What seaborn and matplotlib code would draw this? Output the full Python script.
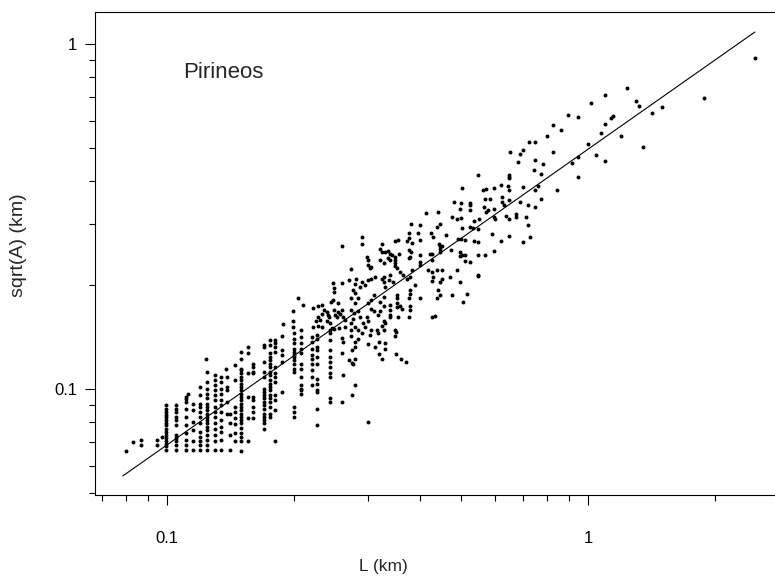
import matplotlib
matplotlib.use("Agg")
import matplotlib.pyplot as plt
import seaborn as sns
import pandas as pd
from matplotlib.ticker import FixedLocator, FixedFormatter, NullFormatter

sns.set_theme(style="white")
plt.rcParams['font.family'] = ['Liberation Sans', 'DejaVu Sans']

# ---------------- data (L in km, sqrt(A) in km) ----------------
# dense low range: L values come in discrete columns
col_L = [0.0995, 0.1051, 0.1109, 0.1154, 0.1200, 0.1248, 0.1298, 0.1347, 0.1389,
         0.1412, 0.145, 0.150, 0.156, 0.160, 0.170, 0.1757, 0.1805, 0.188, 0.200,
         0.208, 0.2207, 0.2275, 0.244]
col_S = [
    [0.0897, 0.0878, 0.0859, 0.0843, 0.0831, 0.0813, 0.0799, 0.0787, 0.0768, 0.0752, 0.0736, 0.072, 0.0706, 0.0694, 0.0683, 0.0665],
    [0.0897, 0.0878, 0.0859, 0.0831, 0.0813, 0.0787, 0.0736, 0.072, 0.0706, 0.069, 0.0665],
    [0.0949, 0.0933, 0.092, 0.0878, 0.0831, 0.0787, 0.0747, 0.0712, 0.069, 0.0665],
    [0.0907, 0.0869, 0.0804, 0.0763, 0.0706, 0.0665],
    [0.1012, 0.096, 0.0907, 0.0887, 0.0859, 0.0831, 0.0795, 0.0752, 0.0728, 0.0706, 0.069, 0.0665],
    [0.112, 0.1048, 0.1, 0.097, 0.094, 0.0907, 0.0887, 0.0869, 0.0849, 0.0831, 0.0813, 0.0795, 0.0776, 0.076, 0.0736, 0.0712, 0.069, 0.0665],
    [0.1097, 0.106, 0.1024, 0.0993, 0.096, 0.0929, 0.0887, 0.0859, 0.0831, 0.0795, 0.0768, 0.0736, 0.0705, 0.0665],
    [0.1085, 0.1048, 0.1, 0.097, 0.0929, 0.0897, 0.0859, 0.0813, 0.0776, 0.0752, 0.0712, 0.0665],
    [0.1012, 0.0993, 0.092, 0.0849, 0.1085],
    [0.0849, 0.0795, 0.0736, 0.0665],
    [0.117, 0.1065, 0.0887, 0.0859, 0.0822, 0.0791, 0.0744, 0.0705],
    [0.128, 0.1225, 0.1146, 0.1135, 0.111, 0.1085, 0.106, 0.1036, 0.1012, 0.0993, 0.097, 0.0949, 0.0929, 0.0907, 0.0887, 0.0869, 0.0849, 0.0831, 0.0813, 0.0795, 0.0773, 0.0744, 0.0728, 0.0705, 0.0662],
    [0.1325, 0.1268, 0.111, 0.0949, 0.0822, 0.0705],
    [0.1185, 0.1158, 0.112, 0.111, 0.0949, 0.0929, 0.0887, 0.0859, 0.0822],
    [0.134, 0.1325, 0.1198, 0.112, 0.1085, 0.1002, 0.098, 0.096, 0.0939, 0.0918, 0.0897, 0.0878, 0.0849, 0.0831, 0.0813, 0.0795, 0.0768],
    [0.1387, 0.134, 0.1268, 0.124, 0.121, 0.1185, 0.1158, 0.112, 0.1097, 0.106, 0.1036, 0.1012, 0.0993, 0.096, 0.0939, 0.0918, 0.0887, 0.0849, 0.0831],
    [0.1387, 0.1355, 0.1325, 0.128, 0.1158, 0.111, 0.1085, 0.1048, 0.096, 0.0929, 0.0869, 0.0705],
    [0.1422, 0.130, 0.1254, 0.1198, 0.098],
    [0.1451, 0.140, 0.1355, 0.131, 0.128, 0.1254, 0.124, 0.121, 0.1185, 0.1146, 0.112, 0.0887, 0.0859, 0.0831],
    [0.148, 0.1416, 0.1355, 0.131, 0.1268, 0.1185, 0.1146, 0.1085, 0.1024, 0.1002, 0.0993, 0.097],
    [0.1416, 0.137, 0.131, 0.1254, 0.1225, 0.1185, 0.1135, 0.1085, 0.1024],
    [0.1433, 0.140, 0.1325, 0.130, 0.124, 0.1185, 0.1072, 0.1036, 0.0993, 0.098, 0.0878, 0.0786],
    [0.148, 0.1451, 0.1387, 0.130, 0.124, 0.1198, 0.1158, 0.111, 0.1085, 0.0939, 0.0918],
]

# scattered points, small L
low_L = [0.0799, 0.0833, 0.0870, 0.0870, 0.0946, 0.0946, 0.0972, 0.1123, 0.124, 0.138]
low_S = [0.0663, 0.0700, 0.0710, 0.0690, 0.0710, 0.0690, 0.0728, 0.0968, 0.122, 0.114]

# scattered points, middle range
mid_L = [0.260, 0.205, 0.255, 0.210, 0.1995, 0.248, 0.250, 0.250, 0.260, 0.270, 0.245, 0.248,
         0.2226, 0.2288, 0.233, 0.236, 0.233, 0.2395, 0.241, 0.243, 0.2496, 0.2506, 0.253, 0.255,
         0.2575, 0.260, 0.262, 0.265, 0.229, 0.231, 0.226, 0.229, 0.233, 0.2226, 0.2395, 0.244,
         0.246, 0.250, 0.2566, 0.265, 0.189, 0.1995, 0.1995,
         0.260, 0.262, 0.260, 0.280, 0.280, 0.275, 0.300, 0.319, 0.330, 0.330, 0.312, 0.319,
         0.325, 0.350, 0.360, 0.369, 0.270, 0.275, 0.276, 0.280, 0.262, 0.280, 0.275, 0.260, 0.300]
mid_S = [0.259, 0.184, 0.178, 0.175, 0.1686, 0.2025, 0.196, 0.1915, 0.2025, 0.207, 0.179, 0.181,
         0.172, 0.1735, 0.1755, 0.169, 0.1655, 0.167, 0.164, 0.162, 0.169, 0.164, 0.1615, 0.167,
         0.1655, 0.170, 0.162, 0.158, 0.162, 0.158, 0.157, 0.152, 0.1515, 0.1515, 0.157, 0.155,
         0.1505, 0.1496, 0.1505, 0.1515, 0.154, 0.157, 0.1515,
         0.141, 0.137, 0.127, 0.137, 0.132, 0.130, 0.135, 0.137, 0.136, 0.131, 0.132, 0.126,
         0.122, 0.126, 0.122, 0.120, 0.121, 0.119, 0.118, 0.122, 0.110, 0.1025, 0.096, 0.092, 0.080]

# scattered points, L about 0.27 - 0.55
up_L = [0.481, 0.499, 0.524, 0.524, 0.497, 0.524, 0.413, 0.440, 0.475, 0.488, 0.499, 0.537, 0.550,
        0.380, 0.399, 0.445, 0.439, 0.501, 0.524, 0.290, 0.290, 0.325, 0.348, 0.354, 0.376, 0.395,
        0.376, 0.371, 0.381, 0.398, 0.424, 0.428, 0.443, 0.445, 0.461, 0.490, 0.499, 0.510, 0.321,
        0.325, 0.330, 0.335, 0.339, 0.342, 0.335, 0.339, 0.349, 0.349, 0.349, 0.349, 0.351, 0.356,
        0.375, 0.380, 0.378, 0.375, 0.399, 0.399, 0.399, 0.421, 0.425, 0.425, 0.445, 0.449, 0.445,
        0.473, 0.497, 0.501, 0.510, 0.497, 0.510, 0.298, 0.301, 0.301, 0.303, 0.306, 0.321, 0.327,
        0.274, 0.312, 0.306, 0.301, 0.282, 0.280, 0.290, 0.295, 0.287, 0.327, 0.324, 0.327, 0.339,
        0.344, 0.336, 0.330, 0.358, 0.364, 0.371, 0.383, 0.378, 0.388, 0.416, 0.425, 0.429, 0.425,
        0.439, 0.449, 0.449, 0.445, 0.470, 0.488, 0.497, 0.515, 0.506, 0.377, 0.378, 0.375, 0.399,
        0.437, 0.441, 0.446, 0.475, 0.351, 0.351, 0.351, 0.351, 0.358, 0.361, 0.377, 0.377, 0.339,
        0.339, 0.338, 0.327, 0.321, 0.327, 0.310, 0.306, 0.301, 0.306, 0.277, 0.280, 0.274, 0.285,
        0.280, 0.274, 0.278, 0.285, 0.287, 0.277, 0.298, 0.301, 0.292, 0.310, 0.318, 0.321, 0.327,
        0.330, 0.325, 0.327, 0.339, 0.354, 0.375, 0.348, 0.350, 0.348, 0.425, 0.433, 0.274, 0.280,
        0.274, 0.285, 0.290, 0.295, 0.306, 0.315, 0.303, 0.318, 0.274, 0.285]
up_S = [0.349, 0.345, 0.347, 0.341, 0.332, 0.331, 0.323, 0.325, 0.316, 0.311, 0.313, 0.307, 0.310,
        0.301, 0.299, 0.301, 0.294, 0.293, 0.294, 0.275, 0.264, 0.263, 0.269, 0.270, 0.284, 0.284,
        0.274, 0.269, 0.265, 0.271, 0.283, 0.276, 0.264, 0.260, 0.280, 0.272, 0.273, 0.271, 0.254,
        0.250, 0.250, 0.251, 0.246, 0.244, 0.240, 0.236, 0.242, 0.237, 0.232, 0.228, 0.224, 0.246,
        0.253, 0.250, 0.242, 0.240, 0.245, 0.234, 0.229, 0.247, 0.246, 0.237, 0.250, 0.259, 0.254,
        0.253, 0.250, 0.245, 0.245, 0.243, 0.235, 0.242, 0.237, 0.229, 0.224, 0.226, 0.237, 0.232,
        0.223, 0.211, 0.209, 0.207, 0.209, 0.202, 0.204, 0.200, 0.198, 0.211, 0.209, 0.204, 0.214,
        0.204, 0.207, 0.198, 0.219, 0.214, 0.209, 0.221, 0.211, 0.200, 0.222, 0.218, 0.211, 0.206,
        0.221, 0.221, 0.209, 0.204, 0.211, 0.221, 0.204, 0.189, 0.179, 0.193, 0.189, 0.184, 0.184,
        0.184, 0.194, 0.187, 0.187, 0.187, 0.183, 0.177, 0.173, 0.174, 0.171, 0.174, 0.170, 0.175,
        0.169, 0.164, 0.185, 0.179, 0.174, 0.187, 0.181, 0.177, 0.171, 0.194, 0.190, 0.183, 0.183,
        0.177, 0.169, 0.166, 0.168, 0.162, 0.160, 0.162, 0.157, 0.155, 0.168, 0.164, 0.168, 0.157,
        0.155, 0.152, 0.148, 0.162, 0.162, 0.162, 0.148, 0.146, 0.142, 0.162, 0.163, 0.155, 0.151,
        0.148, 0.148, 0.145, 0.151, 0.148, 0.148, 0.143, 0.145, 0.142, 0.140]

# scattered points, large L
hi_L = [0.898, 0.948, 0.824, 0.863, 0.800, 0.724, 0.748, 0.998, 0.654, 0.700, 0.690, 0.824, 0.681,
        0.748, 0.781, 0.948, 0.916, 0.744, 0.773, 0.649, 0.649, 0.649, 0.549, 0.948, 0.700, 0.761,
        0.748, 0.844, 0.622, 0.645, 0.650, 0.599, 0.574, 0.562, 0.625, 0.650, 0.569, 0.585, 0.773,
        0.625, 0.633, 0.688, 0.566, 0.580, 0.574, 0.599, 0.719, 0.750, 0.638, 0.649, 0.675, 0.675,
        0.599, 0.601, 0.714, 0.534, 0.549, 0.721, 0.590, 0.650, 0.728, 0.537, 0.549, 0.620, 0.700,
        0.599, 0.549, 0.569, 0.524, 0.549, 0.549, 0.501,
        1.015, 1.098, 1.236, 1.298, 1.324, 1.098, 1.134, 1.148, 1.074, 1.198, 1.419, 1.496, 1.886,
        2.493, 1.349, 1.043, 1.098]
hi_S = [0.623, 0.616, 0.582, 0.563, 0.542, 0.519, 0.521, 0.513, 0.486, 0.494, 0.479, 0.486, 0.454,
        0.462, 0.448, 0.471, 0.453, 0.431, 0.420, 0.417, 0.413, 0.408, 0.417, 0.413, 0.385, 0.388,
        0.377, 0.377, 0.390, 0.388, 0.378, 0.382, 0.381, 0.377, 0.361, 0.353, 0.356, 0.356, 0.356,
        0.349, 0.341, 0.348, 0.338, 0.330, 0.326, 0.333, 0.341, 0.336, 0.317, 0.310, 0.322, 0.315,
        0.316, 0.312, 0.315, 0.293, 0.291, 0.298, 0.281, 0.278, 0.276, 0.269, 0.267, 0.269, 0.267,
        0.251, 0.244, 0.244, 0.234, 0.214, 0.213, 0.382,
        0.673, 0.712, 0.744, 0.685, 0.661, 0.587, 0.610, 0.618, 0.551, 0.541, 0.631, 0.657, 0.696,
        0.913, 0.504, 0.476, 0.458]

# fitted power-law line (end points)
line_L = [0.0786, 2.49]
line_S = [0.056, 1.083]

# ---------------- assemble ----------------
rows = []
for lv, svals in zip(col_L, col_S):
    for sv in svals:
        rows.append((lv, sv))
for Ls, Ss in ((low_L, low_S), (mid_L, mid_S), (up_L, up_S), (hi_L, hi_S)):
    rows.extend(zip(Ls, Ss))
df = pd.DataFrame(rows, columns=["L", "S"])

# ---------------- plot ----------------
W, H = 775, 580
fig = plt.figure(figsize=(W / 100, H / 100), dpi=100)
ax = fig.add_axes([95 / W, 1 - 495 / H, (W - 95) / W, (495 - 12) / H])

sns.scatterplot(data=df, x="L", y="S", ax=ax, color="black", s=8,
                linewidth=0, legend=False)
sns.lineplot(x=line_L, y=line_S, ax=ax, color="black", linewidth=0.8)

ax.set_xscale("log")
ax.set_yscale("log")
ax.set_xlim(0.0675, 2.78)
ax.set_ylim(0.0493, 1.238)

ax.xaxis.set_major_locator(FixedLocator([0.1, 1]))
ax.xaxis.set_major_formatter(FixedFormatter(["0.1", "1"]))
ax.xaxis.set_minor_locator(FixedLocator([0.07, 0.08, 0.09, 0.2, 0.3, 0.4, 0.5, 0.6, 0.7, 0.8, 0.9, 2]))
ax.xaxis.set_minor_formatter(NullFormatter())
ax.yaxis.set_major_locator(FixedLocator([0.1, 1]))
ax.yaxis.set_major_formatter(FixedFormatter(["0.1", "1"]))
ax.yaxis.set_minor_locator(FixedLocator([0.05, 0.06, 0.07, 0.08, 0.09, 0.2, 0.3, 0.4, 0.5, 0.6, 0.7, 0.8, 0.9]))
ax.yaxis.set_minor_formatter(NullFormatter())

ax.tick_params(axis="both", which="major", direction="out", length=7, width=0.8,
               colors="black", labelsize=12, bottom=True, left=True)
ax.tick_params(axis="both", which="minor", direction="out", length=4, width=0.8,
               colors="black", bottom=True, left=True)
ax.tick_params(axis="x", which="major", pad=19)
ax.tick_params(axis="y", which="major", pad=6)

for sp in ax.spines.values():
    sp.set_color("black")
    sp.set_linewidth(0.8)
ax.spines["right"].set_visible(False)

ax.set_xlabel("")
ax.set_ylabel("")
fig.text(383 / W, 1 - 567 / H, "L (km)", ha="center", va="center", fontsize=12.5)
fig.text(19 / W, 1 - 245 / H, "sqrt(A) (km)", ha="center", va="center",
         rotation=90, fontsize=14)
ax.text((183 - 95) / (W - 95), (495 - 72) / (495 - 12), "Pirineos", transform=ax.transAxes,
        ha="left", va="center", fontsize=16)

fig.savefig("out.png", dpi=100)
